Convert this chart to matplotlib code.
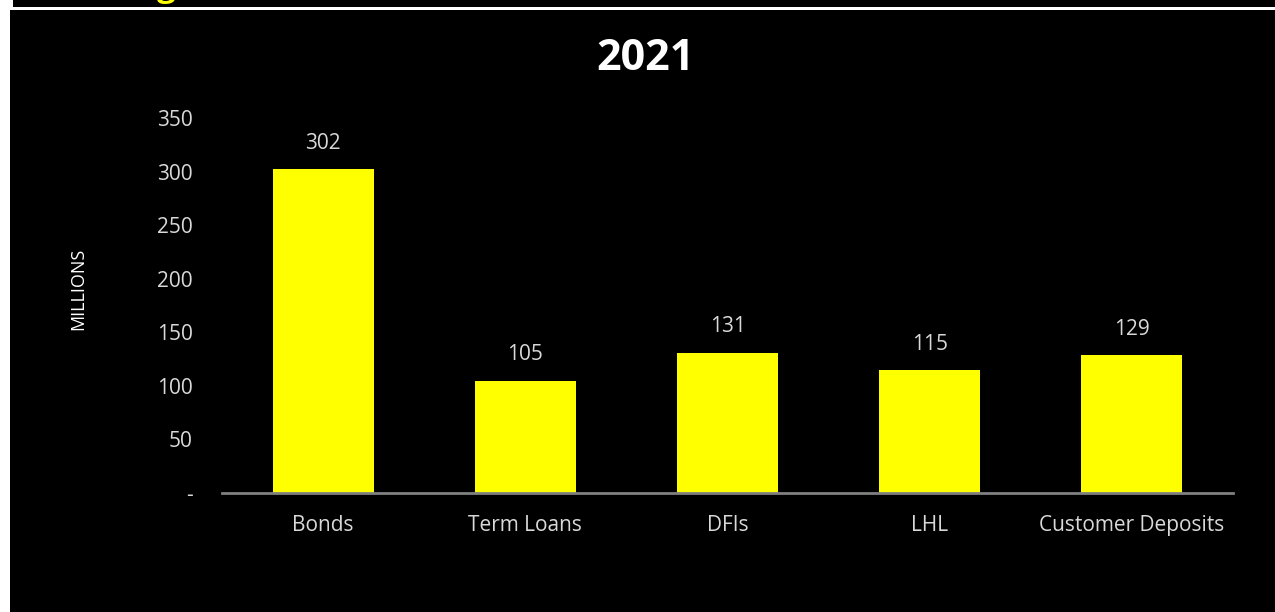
import matplotlib.pyplot as plt
from matplotlib.patches import Rectangle
from matplotlib.ticker import FuncFormatter

plt.rcParams['font.family'] = ['Open Sans', 'DejaVu Sans']

# funding sources, millions
categories = ['Bonds', 'Term Loans', 'DFIs', 'LHL', 'Customer Deposits']
values = [302, 105, 131, 115, 129]
yticks = [0, 50, 100, 150, 200, 250, 300, 350]

fig = plt.figure(figsize=(12.75, 6.12), dpi=100)
fig.patch.set_facecolor('white')

# dark header strip and chart panel
fig.patches.append(Rectangle((13 / 1275, 1 - 7 / 612), 1, 7 / 612,
                             transform=fig.transFigure, facecolor='black', zorder=-2))
fig.patches.append(Rectangle((10 / 1275, 0), 1, 1 - 10 / 612,
                             transform=fig.transFigure, facecolor='black', zorder=-2))
fig.text(166 / 1275, 1 + 4 / 612, 'g', color='#ffff00', fontsize=24,
         fontweight='bold', ha='center', va='baseline')

ax = fig.add_axes([222 / 1275, 1 - 493 / 612, (1233 - 222) / 1275, (493 - 118) / 612])
ax.set_facecolor('none')
x = range(len(categories))
bars = ax.bar(x, values, width=0.5, color='#ffff00', zorder=2)
for xi, v in zip(x, values):
    ax.annotate(f'{v}', (xi, v), xytext=(0, 11), textcoords='offset points',
                ha='center', va='bottom', color='#d9d9d9', fontsize=15)

ax.set_xlim(-0.5, len(categories) - 0.5)
ax.set_ylim(0, 350)
ax.set_yticks(yticks)
ax.yaxis.set_major_formatter(FuncFormatter(lambda v, p: '-' if v == 0 else f'{v:.0f}'))
ax.set_xticks(list(x))
ax.set_xticklabels(categories)
ax.tick_params(axis='both', length=0, colors='#d9d9d9', labelsize=15)
ax.tick_params(axis='y', pad=21)
ax.tick_params(axis='x', pad=16)
for side in ['top', 'right', 'left']:
    ax.spines[side].set_visible(False)
ax.spines['bottom'].set_color('#808080')
ax.spines['bottom'].set_linewidth(2)

fig.text(78 / 1275, 1 - 289 / 612, 'MILLIONS', color='white', fontsize=13,
         rotation=90, ha='center', va='center')
fig.text(645 / 1275, 1 - 58 / 612, '2021', color='white', fontsize=31,
         fontweight='bold', ha='center', va='center')

fig.savefig('out.png', dpi=100, facecolor=fig.get_facecolor())
